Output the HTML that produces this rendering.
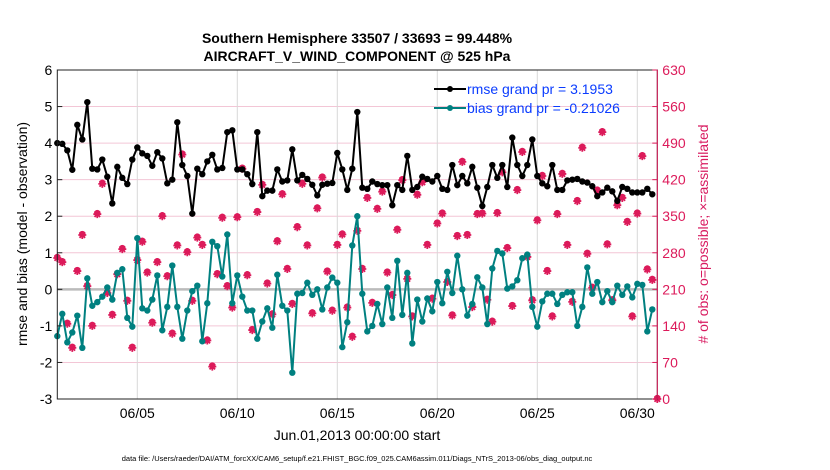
<!DOCTYPE html>
<html><head><meta charset="utf-8"><style>
body{margin:0;background:#fff;}
svg{display:block;font-family:"Liberation Sans",sans-serif;}
</style></head><body>
<svg id="chart" width="830" height="470" viewBox="0 0 830 470" xmlns="http://www.w3.org/2000/svg">
<rect width="830" height="470" fill="#fff"/>
<g id="grid"></g>
<g id="series"></g>
<g id="axes"></g>
<text x="357" y="43" text-anchor="middle" font-size="14" font-weight="bold">Southern Hemisphere 33507 / 33693 = 99.448%</text>
<text x="357" y="61" text-anchor="middle" font-size="14" font-weight="bold">AIRCRAFT_V_WIND_COMPONENT @ 525 hPa</text>
<text transform="translate(27,234) rotate(-90)" text-anchor="middle" font-size="14">rmse and bias (model - observation)</text>
<text transform="translate(708,234) rotate(-90)" text-anchor="middle" font-size="14" fill="#d81b60">#  of obs: o=possible; ×=assimilated</text>
<text x="357" y="440" text-anchor="middle" font-size="14">Jun.01,2013 00:00:00 start</text>
<text x="357" y="461" text-anchor="middle" font-size="7.5">data file: /Users/raeder/DAI/ATM_forcXX/CAM6_setup/f.e21.FHIST_BGC.f09_025.CAM6assim.011/Diags_NTrS_2013-06/obs_diag_output.nc</text>
<g>
<line x1="434" y1="89" x2="466" y2="89" stroke="#000" stroke-width="2"/><circle cx="450" cy="89" r="3" fill="#000"/>
<text x="467" y="94" font-size="14" fill="#0a3cff">rmse grand pr = 3.1953</text>
<line x1="434" y1="108" x2="466" y2="108" stroke="#008080" stroke-width="2"/><circle cx="450" cy="108" r="3" fill="#008080"/>
<text x="467" y="113" font-size="14" fill="#0a3cff">bias grand pr = -0.21026</text>
</g>
</svg>
<script>
const rmse=[4.0,3.98,3.8,3.27,4.5,4.1,5.12,3.3,3.28,3.55,3.08,2.35,3.35,3.05,2.88,3.55,3.88,3.72,3.65,3.38,3.75,3.58,2.9,3.0,4.57,3.4,3.1,2.07,3.3,3.15,3.5,3.68,3.28,3.32,4.3,4.35,3.28,3.28,3.15,2.88,4.3,2.55,2.7,2.7,3.28,2.95,2.98,3.83,2.98,3.13,3.02,2.86,2.57,2.86,2.89,2.91,3.73,3.28,2.72,3.3,4.85,2.78,2.75,2.95,2.88,2.85,2.85,2.3,2.85,2.72,3.65,2.72,2.8,3.08,3.02,2.95,3.1,2.75,2.72,3.4,2.85,3.1,2.9,3.35,2.78,2.28,2.8,3.4,3.05,3.4,2.8,4.15,3.4,3.1,3.4,4.1,3.1,2.9,2.82,3.4,2.72,2.72,2.98,3.0,3.02,2.95,2.92,2.82,2.55,2.65,2.78,2.68,2.42,2.8,2.75,2.65,2.65,2.65,2.75,2.6];
const bias=[-1.28,-0.67,-1.45,-1.18,-0.72,-1.6,0.3,-0.45,-0.35,-0.2,0.05,-0.28,0.45,0.55,-0.78,-1.02,1.4,-0.52,-0.58,-0.28,0.38,-1.12,-0.48,0.65,-0.48,-1.35,-0.58,-0.05,0.1,-1.42,-0.38,1.3,1.18,0.35,1.5,-0.38,0.38,-0.2,-0.58,-0.58,-1.35,-0.88,-0.52,-1.05,0.4,-0.45,-0.58,-2.28,-0.12,-0.1,0.18,-0.15,0.0,-0.55,0.05,0.32,0.18,-1.58,-0.9,1.2,2.0,-0.12,-1.15,-1.0,-0.4,-0.95,0.05,-0.78,0.78,-0.7,0.45,-1.48,-0.28,-0.88,-0.25,-0.6,0.2,-0.38,0.48,-0.1,0.92,0.0,-0.72,-0.4,0.33,0.05,-0.95,0.57,1.05,0.98,0.02,0.08,0.25,0.85,0.95,-0.48,-1.02,-0.33,-0.12,-0.12,-0.4,-0.15,-0.08,-0.08,-1.0,-0.48,0.6,-0.12,0.2,-0.35,-0.05,-0.35,0.1,-0.15,0.08,-0.22,0.15,0.12,-1.15,-0.55];
const obsCount=[270,262,144,98,245,314,216,140,354,412,203,161,239,287,188,98,266,301,242,146,262,350,235,125,294,468,281,188,309,295,112,62,239,347,216,175,348,441,237,132,358,410,221,162,302,392,249,182,329,412,294,164,365,424,244,169,295,315,175,119,322,249,385,184,364,397,242,199,324,419,230,158,391,415,295,192,336,355,224,160,312,454,314,176,354,355,190,148,356,434,289,178,400,473,272,189,342,427,245,158,354,431,295,186,379,481,278,213,399,511,296,189,371,385,339,158,355,465,248,228,0];
const leftTicks=[-3,-2,-1,0,1,2,3,4,5,6];
const rightTicks=[0,70,140,210,280,350,420,490,560,630];
const dateTicks=["06/05","06/10","06/15","06/20","06/25","06/30"];
const dateTickDays=[4,9,14,19,24,29];
const stepDays=0.25;

const NS="http://www.w3.org/2000/svg";
const X0=57.3,X1=657.3,Y0=70,Y1=399;
const xS=t=>X0+t*(X1-X0)/30;
const yL=v=>Y1-(v+3)*(Y1-Y0)/9;
const yR=c=>Y1-c*(Y1-Y0)/630;
function mk(tag,attrs,parent){const e=document.createElementNS(NS,tag);for(const k in attrs)e.setAttribute(k,attrs[k]);parent.appendChild(e);return e;}
const grid=document.getElementById('grid'),series=document.getElementById('series'),axes=document.getElementById('axes');
mk('rect',{x:X0,y:Y0,width:X1-X0,height:Y1-Y0,fill:'#fff'},grid);
rightTicks.forEach(c=>{const l=mk('line',{x1:X0,x2:X1,y1:yR(c),y2:yR(c),stroke:'#f3c6d6','stroke-width':1},grid);

});
dateTickDays.forEach((d,i)=>{const l=mk('line',{x1:xS(d),x2:xS(d),y1:Y0,y2:Y1,stroke:'#d8d8d8','stroke-width':1},grid);


const t=mk('text',{x:xS(d),y:Y1+19,'text-anchor':'middle','font-size':14},axes);t.textContent=dateTicks[i];

});
const zl=mk('line',{x1:X0,x2:X1,y1:yL(0),y2:yL(0),stroke:'#bbb','stroke-width':2.5},grid);


obsCount.forEach((c,i)=>{const cx=xS(i*stepDays),cy=yR(c);
const g=mk('g',{stroke:'#dc1a5a',fill:'none','stroke-width':1.8},series);


mk('circle',{cx:cx,cy:cy-1,r:2.3},g);
mk('path',{d:`M${cx-4} ${cy}H${cx+4}M${cx} ${cy-4}V${cy+4}M${cx-2.8} ${cy-2.8}L${cx+2.8} ${cy+2.8}M${cx-2.8} ${cy+2.8}L${cx+2.8} ${cy-2.8}`},g);});
function line(vals,color,name){const pts=vals.map((v,i)=>xS(i*stepDays).toFixed(1)+','+yL(v).toFixed(1)).join(' ');
const p=mk('polyline',{points:pts,fill:'none',stroke:color,'stroke-width':2},series);


vals.forEach((v,i)=>{const c=mk('circle',{cx:xS(i*stepDays),cy:yL(v),r:3.2,fill:color},series);

});}
line(bias,'#008080','bias');
line(rmse,'#000','rmse');
mk('rect',{x:X0,y:Y0,width:X1-X0,height:Y1-Y0,fill:'none',stroke:'#222','stroke-width':1},axes);
mk('line',{x1:X1,x2:X1,y1:Y0,y2:Y1,stroke:'#dc1a5a','stroke-width':1},axes);
leftTicks.forEach(v=>{mk('line',{x1:X0,x2:X0+5,y1:yL(v),y2:yL(v),stroke:'#222'},axes);
const t=mk('text',{x:X0-5,y:yL(v)+5,'text-anchor':'end','font-size':14},axes);t.textContent=v;

});
rightTicks.forEach(c=>{mk('line',{x1:X1-5,x2:X1,y1:yR(c),y2:yR(c),stroke:'#dc1a5a'},axes);
const t=mk('text',{x:X1+5,y:yR(c)+5,'font-size':14,fill:'#dc1a5a'},axes);t.textContent=c;

});
</script>
</body></html>
